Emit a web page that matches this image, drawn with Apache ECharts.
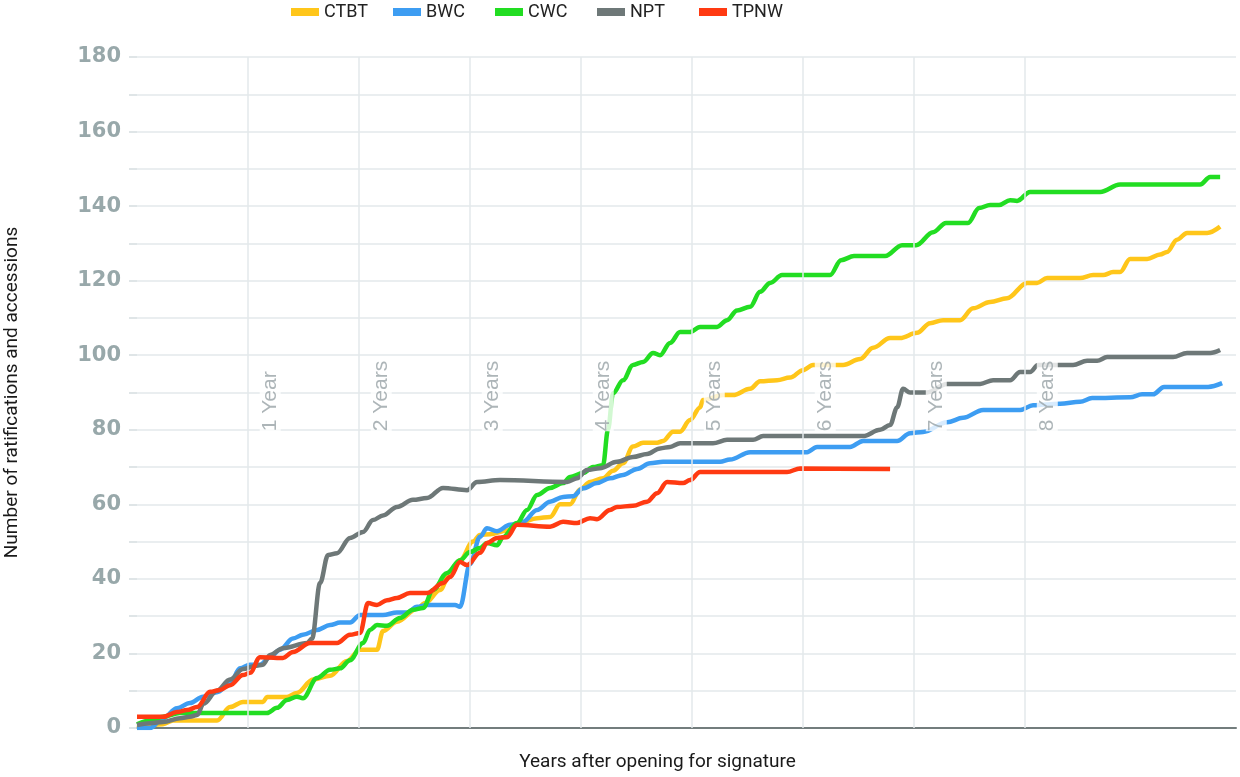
<!DOCTYPE html>
<html><head><meta charset="utf-8">
<script src="https://cdn.jsdelivr.net/npm/echarts/dist/echarts.min.js"></script>
<style>html,body{margin:0;padding:0;background:#fff}#c{width:1240px;height:777px}</style>
</head><body><div id="c"></div>
<script>
const seriesNames = ['CTBT', 'BWC', 'CWC', 'NPT', 'TPNW'];
const seriesColors = ['#FFC61A', '#3D9DF2', '#22DD22', '#6E7878', '#FF3A12'];

// [years after opening, number of ratifications and accessions]
const ctbt = [[0,0],[0.234,1],[0.324,2],[0.721,2],[0.838,5.6],[0.955,7],[1.135,7],[1.171,8.3],[1.351,8.3],[1.441,9.4],[1.586,13],[1.739,14],[1.892,18],[2.009,21],[2.162,21],[2.216,26],[2.342,28.5],[2.523,32],[2.595,33.5],[2.730,37],[2.820,41.5],[2.910,45],[3.027,50],[3.090,51.8],[3.180,52],[3.333,53],[3.450,55],[3.604,56.3],[3.721,56.6],[3.811,60],[3.901,60],[3.991,64],[4.081,66],[4.198,67],[4.288,69],[4.378,71],[4.468,75.5],[4.559,76.5],[4.685,76.5],[4.739,77],[4.829,79.5],[4.892,79.5],[4.982,82.6],[5.072,86],[5.099,88],[5.279,89.3],[5.369,89.3],[5.523,91],[5.613,93],[5.766,93.3],[5.883,94],[6.000,96],[6.090,97.4],[6.360,97.4],[6.514,99],[6.631,102],[6.784,104.6],[6.874,104.6],[7.027,106],[7.144,108.6],[7.261,109.4],[7.414,109.4],[7.532,112.6],[7.685,114.3],[7.838,115.3],[8.018,119.4],[8.108,119.4],[8.198,120.7],[8.495,120.7],[8.613,121.5],[8.703,121.5],[8.793,122.3],[8.856,122.3],[8.946,125.8],[9.099,125.8],[9.216,127],[9.279,127.7],[9.369,131],[9.459,132.8],[9.640,132.8],[9.757,134.5]];
const bwc = [[0,0],[0.117,0],[0.234,2.6],[0.360,5.3],[0.477,6.7],[0.595,8.4],[0.721,9.6],[0.838,12],[0.928,16],[1.018,17],[1.108,17],[1.198,19],[1.288,21],[1.405,24],[1.495,25],[1.622,26.3],[1.739,27.6],[1.829,28.3],[1.919,28.3],[2.009,30.3],[2.216,30.3],[2.342,31],[2.432,31],[2.523,32.5],[2.613,33],[2.865,33],[2.910,32.5],[3.000,44],[3.090,51.3],[3.153,53.6],[3.243,52.8],[3.360,54.5],[3.477,55.3],[3.604,58.5],[3.721,60.7],[3.838,62],[3.928,62.2],[4.018,64.3],[4.144,65.7],[4.261,67],[4.378,67.9],[4.505,69.5],[4.622,71],[4.739,71.4],[5.252,71.4],[5.342,72],[5.523,74],[6.036,74],[6.126,75.4],[6.423,75.4],[6.541,77],[6.847,77],[6.964,79.1],[7.081,79.4],[7.297,82],[7.441,83.2],[7.622,85.3],[7.955,85.3],[8.072,86.6],[8.315,87],[8.495,87.5],[8.604,88.5],[8.946,88.7],[9.054,89.5],[9.153,89.5],[9.252,91.5],[9.649,91.5],[9.775,92.5]];
const cwc = [[0,1],[0.117,2],[0.234,3],[0.387,4],[1.171,4],[1.261,5.4],[1.351,7.5],[1.441,8.4],[1.495,8],[1.622,13.4],[1.739,15.6],[1.829,16],[1.919,18.2],[2.036,22.8],[2.099,26.3],[2.162,27.6],[2.252,27.4],[2.369,29.5],[2.486,31.7],[2.577,32.2],[2.667,37],[2.793,41.6],[2.910,45],[3.000,47.2],[3.090,48.3],[3.153,49.6],[3.243,49],[3.297,51.2],[3.423,55],[3.514,58.5],[3.604,62.5],[3.721,64.4],[3.838,65.7],[3.901,67.3],[4.018,68.4],[4.108,70],[4.198,70.5],[4.243,80],[4.288,89.8],[4.378,93.3],[4.468,97.4],[4.559,98.2],[4.649,100.6],[4.712,100],[4.802,103.3],[4.892,106.2],[4.982,106.2],[5.072,107.6],[5.225,107.6],[5.315,109.4],[5.405,112],[5.523,113],[5.613,117],[5.703,119.4],[5.811,121.5],[6.243,121.5],[6.342,125.5],[6.459,126.6],[6.739,126.6],[6.892,129.5],[7.018,129.5],[7.171,133],[7.288,135.5],[7.486,135.5],[7.586,139.5],[7.685,140.3],[7.766,140.3],[7.865,141.6],[7.928,141.4],[8.045,143.8],[8.676,143.8],[8.856,145.8],[9.577,145.8],[9.667,147.8],[9.757,147.8]];
const npt = [[0,0.8],[0.117,1.3],[0.234,1.6],[0.387,2.6],[0.477,3],[0.541,3.5],[0.600,6.5],[0.720,10],[0.838,13],[0.955,15.8],[1.060,16.6],[1.135,17],[1.198,19.6],[1.315,21.4],[1.532,22.8],[1.577,24],[1.649,38.9],[1.721,46.4],[1.802,46.9],[1.919,51],[2.036,52.6],[2.126,55.8],[2.216,57],[2.342,59.3],[2.486,61.2],[2.613,61.7],[2.757,64.4],[2.973,63.8],[3.063,66],[3.270,66.5],[3.874,66],[3.964,67],[4.054,69.2],[4.171,69.7],[4.324,71.4],[4.468,72.7],[4.595,73.5],[4.712,75],[4.802,75.4],[4.892,76.4],[5.189,76.4],[5.315,77.3],[5.550,77.3],[5.640,78.3],[6.541,78.3],[6.694,80],[6.784,81.3],[6.847,86],[6.901,91],[6.964,90],[7.117,90],[7.297,92.3],[7.595,92.3],[7.712,93.3],[7.865,93.3],[7.955,95.5],[8.045,95.5],[8.117,97.4],[8.432,97.4],[8.559,98.5],[8.649,98.5],[8.739,99.5],[9.333,99.5],[9.459,100.6],[9.667,100.6],[9.757,101.4]];
const tpnw = [[0,3],[0.234,3],[0.360,4.3],[0.450,4.8],[0.541,5.6],[0.658,9.7],[0.748,10.2],[0.838,11.5],[0.955,14.2],[1.018,14.8],[1.108,19],[1.261,18.8],[1.315,18.8],[1.405,20.4],[1.559,22.8],[1.802,22.8],[1.919,25],[2.009,25.5],[2.081,33.5],[2.162,33],[2.252,34.3],[2.342,34.9],[2.459,36.2],[2.613,36.2],[2.757,38.9],[2.820,40.5],[2.910,44.5],[2.973,43.7],[3.090,47],[3.153,49.6],[3.243,51],[3.333,51.2],[3.423,54.5],[3.721,54],[3.838,55.3],[3.964,55],[4.081,56.3],[4.144,56],[4.261,58.5],[4.324,59.3],[4.468,59.6],[4.595,60.7],[4.685,63],[4.775,66],[4.919,65.7],[4.982,66.5],[5.072,68.7],[5.856,68.7],[5.973,69.6],[6.784,69.5]];

const yearMarks = [1, 2, 3, 4, 5, 6, 7, 8];
const yearLabels = ['1 Year', '2 Years', '3 Years', '4 Years', '5 Years', '6 Years', '7 Years', '8 Years'];

const allData = [ctbt, bwc, cwc, npt, tpnw];

const chart = echarts.init(document.getElementById('c'), null, {renderer: 'canvas'});

const lineSeries = seriesNames.map((name, i) => ({
  name: name,
  type: 'line',
  data: allData[i],
  showSymbol: false,
  symbol: 'none',
  smooth: 0.35,
  smoothMonotone: 'x',
  lineStyle: {width: 4.5, color: seriesColors[i]},
  itemStyle: {color: seriesColors[i]},
  z: 3
}));

// one legend block per series, evenly spaced like the reference
const legends = seriesNames.map((name, i) => ({
  data: [name],
  top: 3,
  left: 291 + i * 102,
  padding: 0,
  icon: 'rect',
  itemWidth: 28,
  itemHeight: 8,
  textStyle: {fontSize: 18, color: '#222', fontFamily: 'Roboto, sans-serif'}
}));

const option = {
  animation: false,
  backgroundColor: '#fff',
  textStyle: {fontFamily: 'Roboto, sans-serif'},
  grid: {left: 137, right: 4, top: 57, bottom: 49, containLabel: false, outerBoundsMode: 'none'},
  legend: legends,
  xAxis: {
    type: 'value',
    min: 0,
    max: 9.9,
    interval: 1,
    axisLabel: {show: false},
    axisTick: {show: false},
    axisLine: {show: true, lineStyle: {color: '#737d7d', width: 2}},
    splitLine: {show: false},
    name: 'Years after opening for signature',
    nameLocation: 'middle',
    nameGap: 25,
    nameTextStyle: {fontSize: 19, color: '#1a1a1a', padding: [0, 58, 0, 0]}
  },
  yAxis: {
    type: 'value',
    min: 0,
    max: 180,
    interval: 10,
    axisLine: {show: false},
    axisTick: {show: true, length: 8, lineStyle: {color: '#d5dde0', width: 1.5}},
    axisLabel: {
      formatter: v => (v % 20 === 0 ? String(v) : ''),
      color: '#98a8aa', fontWeight: 'bold', fontSize: 21, margin: 16,
      fontFamily: '"DejaVu Sans", sans-serif'
    },
    splitLine: {show: true, lineStyle: {color: '#e3e9eb', width: 1.5}},
    name: 'Number of ratifications and accessions',
    nameLocation: 'middle',
    nameGap: 115,
    nameTextStyle: {fontSize: 19, color: '#1a1a1a'}
  },
  series: [
    {
      name: 'yearGrid',
      type: 'line',
      data: [],
      z: 1,
      silent: true,
      markLine: {
        silent: true,
        symbol: 'none',
        label: {show: false},
        lineStyle: {color: '#e3e9eb', width: 1.5, type: 'solid'},
        data: yearMarks.map(v => ({xAxis: v}))
      }
    },
    ...lineSeries,
    {
      name: 'yearLabels',
      type: 'scatter',
      symbolSize: 0,
      silent: true,
      zlevel: 1,
      z: 10,
      data: yearMarks.map((v, i) => ({value: [v + 0.2, 79.6], name: yearLabels[i]})),
      label: {
        show: true,
        formatter: '{b}',
        position: [0, 0],
        rotate: 90,
        align: 'left',
        verticalAlign: 'middle',
        fontSize: 21,
        lineHeight: 19,
        color: '#98a3a6',
        fontFamily: '"Liberation Sans", Arial, sans-serif',
        backgroundColor: '#fff',
        padding: [1, 0]
      }
    }
  ]
};
chart.setOption(option);
</script>
</body></html>
